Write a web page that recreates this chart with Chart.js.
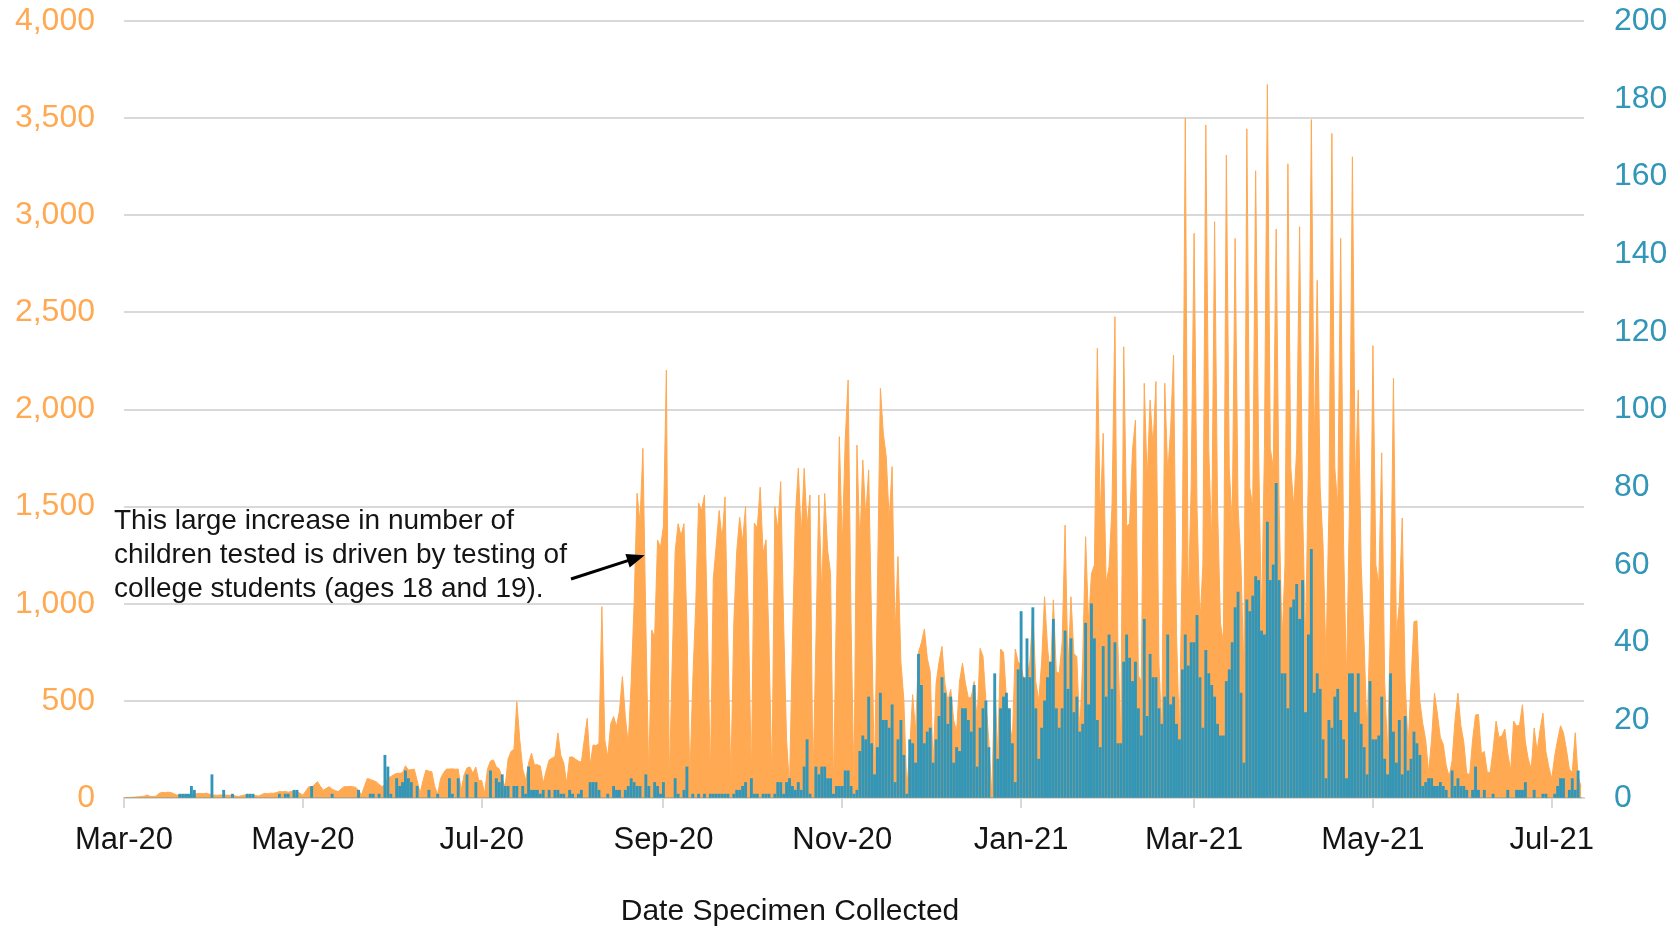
<!DOCTYPE html>
<html>
<head>
<meta charset="utf-8">
<script src="https://cdn.jsdelivr.net/npm/chart.js@4.4.1/dist/chart.umd.min.js"></script>
<style>
  html, body { margin: 0; padding: 0; background: #fff; }
</style>
</head>
<body>
<canvas id="testsChart" width="1678" height="928"></canvas>
<script>
// daily counts, day 0 = 1 Mar 2020; one array per month
const testsMar20 = [2,3,3,4,5,6,8,10,15,8,8,10,24,29,27,30,28,22,15,14,15,13,15,16,20,22,24,22,25,20,15];
const testsApr20 = [15,14,16,15,15,14,15,10,8,12,15,16,15,14,12,10,18,24,22,25,24,28,33,32,34,30,33,35,30,25];
const testsMay20 = [15,35,58,55,70,84,60,40,50,58,45,38,33,45,58,58,60,58,55,40,15,60,101,95,90,84,70,58,70,105,110];
const testsJun20 = [120,127,127,130,166,144,146,149,90,24,90,144,138,135,58,20,101,130,149,149,150,148,149,40,120,155,160,127,160,90];
const testsJul20 = [90,24,150,190,196,160,150,100,58,200,240,250,496,300,150,93,180,231,170,172,165,77,140,195,205,213,335,220,180,77,211];
const testsAug20 = [211,200,190,185,300,410,170,273,270,280,985,300,211,380,419,368,450,625,420,276,600,1000,1569,1420,1800,900,103,865,830,1328,1290];
const testsSep20 = [1400,2203,77,700,1270,1412,1350,1412,900,93,600,985,1518,1480,1560,900,103,1128,1300,1480,1330,1550,800,93,900,1270,1445,1320,1500,900];
const testsOct20 = [103,1415,1390,1600,1260,1329,800,93,1500,1380,1629,900,300,60,800,1450,1697,1350,1697,1400,1560,80,800,1560,1055,1568,1277,1157,60,1000,1860];
const testsNov20 = [1300,1843,2152,900,60,1817,1300,1740,1449,1689,900,100,1100,2109,1877,1757,1432,1706,849,1243,700,506,40,250,532,343,750,800,870,720];
const testsDec20 = [650,150,591,700,780,591,500,559,400,343,600,694,591,515,520,600,400,770,730,500,290,10,626,219,767,750,515,400,292,767,700];
const testsJan21 = [682,600,626,700,968,600,500,700,1036,780,620,1020,650,642,800,1405,650,1036,744,727,340,700,1345,900,1155,1200,2315,1448,1877,1105,1190];
const testsFeb21 = [1500,2478,800,282,2323,1397,1414,1791,1946,630,600,2135,1637,2049,1807,2144,700,330,2135,1671,1900,2280,847,316,1300,3499,1000,1600];
const testsMar21 = [2907,1500,900,1200,3465,1800,1300,2967,1500,900,800,3310,1700,1400,2881,1500,1200,650,3445,1600,1500,3229,1800,900,1800,3673,1800,1700,2929,1500,800];
const testsApr21 = [1200,3265,1700,1500,1800,2941,1500,800,1700,3493,1800,2665,1600,1300,700,1500,3421,1700,1500,2881,1300,600,1500,3301,1600,2101,1200,800,312,900];
const testsMay21 = [2329,1200,1100,1777,600,228,900,2161,840,1000,1441,600,264,600,908,912,500,384,300,130,300,540,432,312,276,168,108,192,400,540,372];
const testsJun21 = [288,127,120,300,427,430,228,240,132,132,250,396,312,320,355,228,144,396,370,375,480,288,200,149,360,240,350,437,240,160];
const testsJul21 = [100,216,300,372,336,250,149,132,336,108,60];

const posMar20 = [0,0,0,0,0,0,0,0,0,0,0,0,0,0,0,0,0,0,0,1,1,1,1,3,2,0,0,0,0,0,6];
const posApr20 = [0,0,0,2,0,0,1,0,0,0,0,1,1,1,0,0,0,0,0,0,0,0,1,0,1,1,0,2,2,0];
const posMay20 = [0,0,0,3,0,0,0,0,0,0,1,0,0,0,0,0,0,0,0,2,0,0,0,1,1,0,1,0,11,8,1];
const posJun20 = [0,5,3,4,7,5,4,0,3,0,0,0,2,0,0,1,0,0,0,5,1,0,5,0,0,6,0,0,4,0];
const posJul20 = [0,0,0,7,0,5,4,6,3,3,0,3,3,0,3,1,8,2,2,2,1,2,0,2,0,2,2,1,1,0,2];
const posAug20 = [1,0,1,2,0,0,4,4,4,2,0,0,1,0,3,2,2,0,2,3,5,4,3,3,0,6,3,0,4,3,1];
const posSep20 = [4,0,0,0,5,1,0,2,8,0,1,0,1,0,1,0,1,1,1,1,1,1,1,0,1,2,2,3,4,0];
const posOct20 = [5,1,1,0,1,1,1,0,1,4,4,1,4,5,3,2,4,2,8,15,1,0,8,6,8,8,5,5,1,3,3];
const posNov20 = [3,7,7,3,1,2,12,16,15,26,14,6,13,27,20,20,18,24,4,15,20,11,1,15,14,9,37,29,14,17];
const posDec20 = [18,9,15,21,31,27,19,26,9,13,12,23,23,20,17,29,8,18,23,25,13,0,32,10,23,26,27,23,14,4,33];
const posJan21 = [48,31,41,31,49,23,10,18,25,31,35,46,23,18,23,43,28,41,22,26,17,19,45,24,50,41,20,13,39,26,42];
const posFeb21 = [28,40,14,14,35,42,36,30,35,23,16,46,21,37,31,31,23,19,26,42,24,26,19,15,33,42,34,40];
const posMar21 = [40,47,31,18,38,32,29,26,19,16,16,30,33,40,49,53,27,9,51,48,52,57,56,43,42,71,56,60,81,56,32];
const posApr21 = [32,23,49,51,55,46,56,22,42,64,27,32,28,15,5,20,18,26,28,20,15,5,32,32,22,32,19,13,6,30];
const posMay21 = [15,15,16,26,10,6,32,17,9,20,6,21,7,10,17,14,11,3,4,5,5,3,3,4,3,2,0,7,3,5,3];
const posJun21 = [3,2,0,2,8,2,0,2,0,0,1,0,0,0,0,2,0,0,2,2,2,4,0,0,2,0,0,1,1,0];
const posJul21 = [0,1,3,5,5,0,2,5,2,7,0];

// x ticks: days since 1 Mar 2020
const tickDays = [0, 61, 122, 184, 245, 306, 365, 426, 487];
const tickLabels = ['Mar-20', 'May-20', 'Jul-20', 'Sep-20', 'Nov-20', 'Jan-21', 'Mar-21', 'May-21', 'Jul-21'];

const noteLines = [
    'This large increase in number of',
    'children tested is driven by testing of',
    'college students (ages 18 and 19).'
];
const arrowDay = 177.6;
const arrowValue = 1250;

const ORANGE = '#ffa952';
const TEAL = '#3196b8';
const GRID = '#d9d9d9';
const FONT = '"Liberation Sans", Arial, sans-serif';

const tested = [].concat(testsMar20, testsApr20, testsMay20, testsJun20, testsJul20, testsAug20,
    testsSep20, testsOct20, testsNov20, testsDec20, testsJan21, testsFeb21, testsMar21,
    testsApr21, testsMay21, testsJun21, testsJul21);
const positive = [].concat(posMar20, posApr20, posMay20, posJun20, posJul20, posAug20,
    posSep20, posOct20, posNov20, posDec20, posJan21, posFeb21, posMar21,
    posApr21, posMay21, posJun21, posJul21);

// keep the plot box where the reference has it
function noPad(scale) {
    scale.paddingTop = 0;
    scale.paddingBottom = 0;
    scale.paddingLeft = 0;
    scale.paddingRight = 0;
}

const notePlugin = {
    id: 'note',
    afterDraw(chart) {
        const ctx = chart.ctx;
        ctx.save();
        ctx.fillStyle = '#141414';
        ctx.font = '28px ' + FONT;
        ctx.textAlign = 'left';
        ctx.textBaseline = 'alphabetic';
        noteLines.forEach((line, i) => ctx.fillText(line, 114, 529 + i * 34));

        // arrow pointing at the late-August jump
        const x0 = 571, y0 = 579;
        const x1 = chart.scales.x.getPixelForValue(arrowDay);
        const y1 = chart.scales.y.getPixelForValue(arrowValue);
        const ang = Math.atan2(y1 - y0, x1 - x0);
        const head = 18;
        ctx.strokeStyle = '#000';
        ctx.fillStyle = '#000';
        ctx.lineWidth = 3;
        ctx.beginPath();
        ctx.moveTo(x0, y0);
        ctx.lineTo(x1 - Math.cos(ang) * head * 0.8, y1 - Math.sin(ang) * head * 0.8);
        ctx.stroke();
        ctx.beginPath();
        ctx.moveTo(x1, y1);
        ctx.lineTo(x1 - head * Math.cos(ang) + 7 * Math.sin(ang), y1 - head * Math.sin(ang) - 7 * Math.cos(ang));
        ctx.lineTo(x1 - head * Math.cos(ang) - 7 * Math.sin(ang), y1 - head * Math.sin(ang) + 7 * Math.cos(ang));
        ctx.closePath();
        ctx.fill();

        // axis title
        ctx.fillStyle = '#141414';
        ctx.font = '30px ' + FONT;
        ctx.textAlign = 'center';
        ctx.fillText('Date Specimen Collected', 790, 920);
        ctx.restore();
    }
};

const ctx = document.getElementById('testsChart');
new Chart(ctx, {
    type: 'bar',
    data: {
        datasets: [
            {
                type: 'bar',
                label: 'Positive',
                data: positive.map((v, i) => ({ x: i, y: v })),
                yAxisID: 'y1',
                backgroundColor: TEAL,
                barThickness: 2.2,
                order: 0
            },
            {
                type: 'line',
                label: 'Tested',
                data: tested.map((v, i) => ({ x: i, y: v })),
                yAxisID: 'y',
                backgroundColor: ORANGE,
                borderColor: ORANGE,
                borderWidth: 1,
                fill: 'origin',
                pointRadius: 0,
                tension: 0,
                order: 1
            }
        ]
    },
    options: {
        responsive: false,
        animation: false,
        devicePixelRatio: 1,
        layout: { padding: { top: 21, left: 0, right: 0, bottom: 0 } },
        scales: {
            x: {
                type: 'linear',
                min: 0,
                max: 498,
                offset: false,
                afterBuildTicks: (scale) => {
                    scale.ticks = tickDays.map(v => ({ value: v }));
                },
                afterFit: (scale) => { scale.height = 130; noPad(scale); },
                ticks: {
                    autoSkip: false,
                    maxRotation: 0,
                    padding: 14,
                    color: '#141414',
                    font: { size: 31, family: FONT },
                    callback: (value) => tickLabels[tickDays.indexOf(value)]
                },
                grid: {
                    offset: false,
                    drawOnChartArea: false,
                    tickLength: 10,
                    color: GRID,
                    lineWidth: 2
                },
                border: { color: GRID, width: 2 }
            },
            y: {
                position: 'left',
                min: 0,
                max: 4000,
                afterFit: (scale) => { scale.width = 124; noPad(scale); },
                ticks: {
                    stepSize: 500,
                    padding: 29,
                    color: ORANGE,
                    font: { size: 32, family: FONT },
                    callback: (value) => value.toLocaleString('en-US')
                },
                grid: { color: GRID, lineWidth: 2, drawTicks: false },
                border: { display: false }
            },
            y1: {
                position: 'right',
                min: 0,
                max: 200,
                afterFit: (scale) => { scale.width = 94; noPad(scale); },
                ticks: {
                    stepSize: 20,
                    padding: 30,
                    color: TEAL,
                    font: { size: 32, family: FONT }
                },
                grid: { drawOnChartArea: false, drawTicks: false },
                border: { display: false }
            }
        },
        plugins: {
            legend: { display: false },
            tooltip: { enabled: false }
        }
    },
    plugins: [notePlugin]
});
</script>
</body>
</html>
